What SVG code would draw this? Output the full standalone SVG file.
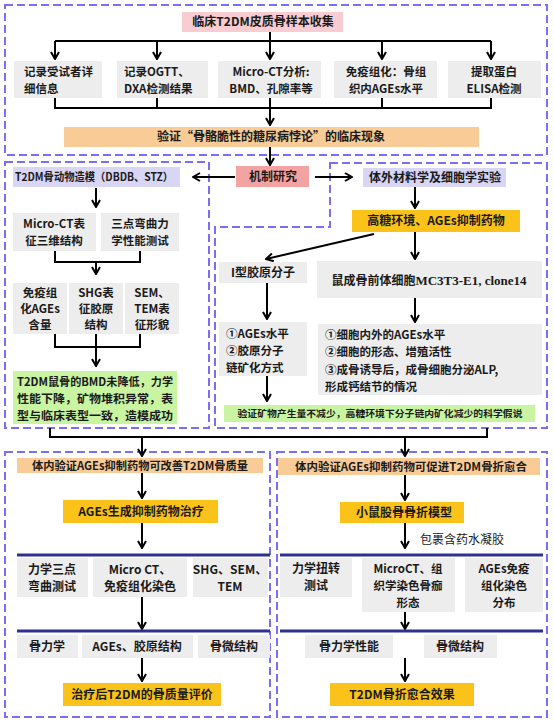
<svg xmlns="http://www.w3.org/2000/svg" width="554" height="725" viewBox="0 0 554 725">
<style>
.dash{fill:none;stroke:#7b6ef0;stroke-width:2;stroke-dasharray:8 4}
.ln{fill:none;stroke:#000;stroke-width:2}
.ar{marker-end:url(#ah)}
.navy{stroke:#2e3192;stroke-width:3;fill:none}
.gray{fill:#ededed}
.pink{fill:#f9ccd2}
.org{fill:#f9cc97}
.gold{fill:#fbc31a}
.lav{fill:#d8d5f5}
.grn{fill:#c9f5a2}
.red{fill:#f4a3a3}
text{font-family:"Noto Sans CJK SC","Noto Sans",sans-serif;font-size:12px;font-weight:bold;fill:#1a1a1a}
.c{text-anchor:middle}
.m{font-size:11.5px}
.s{font-size:11px}
.xs{font-size:9.5px}
.n{font-weight:normal}
.serif{font-family:"Liberation Serif",serif;font-size:13px}
</style>
<defs>
<marker id="ah" viewBox="0 0 10 10" refX="9" refY="5" markerWidth="10" markerHeight="10" markerUnits="userSpaceOnUse" orient="auto">
<path d="M2,1 L9,5 L2,9" fill="none" stroke="#000" stroke-width="2"/>
</marker>
</defs>

<g id="regions">
<rect class="dash" x="5" y="5" width="542" height="150"/>
<rect class="dash" x="5" y="162" width="204" height="266"/>
<path class="dash" d="M330,163 H547 V428 H215 V227 H330 Z"/>
<rect class="dash" x="5" y="452" width="265" height="265"/>
<rect class="dash" x="277" y="452" width="270" height="265"/>
</g>

<g id="connectors">
<path class="ln ar" d="M270,32 V59"/>
<path class="ln" d="M55,41 H491"/>
<path class="ln ar" d="M55,41 V59"/>
<path class="ln ar" d="M157,41 V59"/>
<path class="ln ar" d="M382,41 V59"/>
<path class="ln ar" d="M491,41 V59"/>
<path class="ln" d="M55,98 V108 H491 V98 M157,98 V108 M382,98 V108"/>
<path class="ln ar" d="M270,98 V125"/>
<path class="ln ar" d="M270,147 V165"/>
<path class="ln ar" d="M235,177 H193"/>
<path class="ln ar" d="M315,177 H352"/>
<path class="ln ar" d="M96,188 V207"/>
<path class="ln" d="M55,251 V262 H140 V251"/>
<path class="ln ar" d="M96,262 V274"/>
<path class="ln" d="M55,334 V347 H140 V334"/>
<path class="ln ar" d="M96,334 V366"/>
<path class="ln ar" d="M415,187 V208"/>
<path class="ln ar" d="M374,234 L266,259"/>
<path class="ln ar" d="M415,232 V259"/>
<path class="ln ar" d="M415,298 V322"/>
<path class="ln ar" d="M267,283 V319"/>
<path class="ln ar" d="M267,376 V401"/>
<path class="ln" d="M50,428 V437 H487 V428"/>
<path class="ln ar" d="M142,437 V456"/>
<path class="ln ar" d="M405,437 V456"/>
<path class="ln ar" d="M142,473 V498"/>
<path class="ln ar" d="M142,523 V548"/>
<path class="navy" d="M17,555 H270"/>
<path class="ln ar" d="M142,597 V629"/>
<path class="navy" d="M17,631 H270"/>
<path class="ln ar" d="M142,658 V681"/>
<path class="ln ar" d="M405,475 V500"/>
<path class="ln ar" d="M405,523 V548"/>
<path class="navy" d="M280,555 H543"/>
<path class="ln ar" d="M405,612 V629"/>
<path class="navy" d="M280,631 H543"/>
<path class="ln ar" d="M405,658 V681"/>
</g>

<g id="n_title"><rect class="pink" x="182" y="12" width="161" height="20"/><text class="c" x="263" y="26">临床T2DM皮质骨样本收集</text></g>
<g id="n_r1"><rect class="gray" x="14" y="61" width="88" height="37"/><text class="m" x="24" y="76">记录受试者详</text><text class="m" x="24" y="93">细信息</text></g>
<g id="n_r2"><rect class="gray" x="117" y="61" width="91" height="37"/><text class="m" x="124" y="76">记录OGTT、</text><text class="m" x="124" y="93">DXA检测结果</text></g>
<g id="n_r3"><rect class="gray" x="218" y="61" width="103" height="37"/><text class="c m" x="271" y="76">Micro-CT分析:</text><text class="c m" x="271" y="93">BMD、孔隙率等</text></g>
<g id="n_r4"><rect class="gray" x="334" y="61" width="103" height="37"/><text class="c m" x="386" y="76">免疫组化：骨组</text><text class="c m" x="386" y="93">织内AGEs水平</text></g>
<g id="n_r5"><rect class="gray" x="448" y="61" width="93" height="37"/><text class="c m" x="494" y="76">提取蛋白</text><text class="c m" x="494" y="93">ELISA检测</text></g>
<g id="n_verify"><rect class="org" x="64" y="127" width="415" height="20"/><text class="c" x="271" y="141">验证“骨骼脆性的糖尿病悖论”的临床现象</text></g>
<g id="n_mech"><rect class="red" x="236" y="166" width="73" height="21"/><text class="c" x="273" y="181">机制研究</text></g>

<g id="n_model"><rect class="lav" x="13" y="167" width="167" height="20"/><text class="c s" x="94" y="181" textLength="158" lengthAdjust="spacingAndGlyphs">T2DM骨动物造模（DBDB、STZ）</text></g>
<g id="n_mct"><rect class="gray" x="13" y="213" width="83" height="38"/><text class="c m" x="54" y="228">Micro-CT表</text><text class="c m" x="54" y="245">征三维结构</text></g>
<g id="n_3pt"><rect class="gray" x="101" y="213" width="78" height="38"/><text class="c m" x="140" y="228">三点弯曲力</text><text class="c m" x="140" y="245">学性能测试</text></g>
<g id="n_ihc"><rect class="gray" x="13" y="283" width="54" height="51"/><text class="c m" x="40" y="297">免疫组</text><text class="c m" x="40" y="313">化AGEs</text><text class="c m" x="40" y="329">含量</text></g>
<g id="n_shg"><rect class="gray" x="69" y="283" width="54" height="51"/><text class="c m" x="96" y="297">SHG表</text><text class="c m" x="96" y="313">征胶原</text><text class="c m" x="96" y="329">结构</text></g>
<g id="n_sem"><rect class="gray" x="125" y="283" width="54" height="51"/><text class="c m" x="152" y="297">SEM、</text><text class="c m" x="152" y="313">TEM表</text><text class="c m" x="152" y="329">征形貌</text></g>
<g id="n_result"><rect class="grn" x="13" y="371" width="164" height="53"/><text class="c m" x="95" y="386" textLength="156" lengthAdjust="spacingAndGlyphs">T2DM鼠骨的BMD未降低，力学</text><text class="c m" x="95" y="403" textLength="156" lengthAdjust="spacingAndGlyphs">性能下降，矿物堆积异常，表</text><text class="c m" x="95" y="420" textLength="156" lengthAdjust="spacingAndGlyphs">型与临床表型一致，造模成功</text></g>

<g id="n_invitro"><rect class="lav" x="363" y="168" width="143" height="19"/><text class="c" x="435" y="182">体外材料学及细胞学实验</text></g>
<g id="n_hg"><rect class="gold" x="352" y="210" width="168" height="22"/><text class="c" x="436" y="225">高糖环境、AGEs抑制药物</text></g>
<g id="n_col"><rect class="gray" x="219" y="262" width="88" height="21"/><text class="c" x="263" y="277">I型胶原分子</text></g>
<g id="n_cell"><rect class="gray" x="317" y="261" width="225" height="37"/><text class="c" x="429" y="285">鼠成骨前体细胞<tspan class="serif">MC3T3-E1, clone14</tspan></text></g>
<g id="n_colres"><rect class="gray" x="219" y="322" width="88" height="54"/><text class="m" x="226" y="338">①AGEs水平</text><text class="m" x="226" y="355">②胶原分子</text><text class="m" x="226" y="372">链矿化方式</text></g>
<g id="n_cellres"><rect class="gray" x="318" y="324" width="224" height="71"/><text class="m" x="325" y="339">①细胞内外的AGEs水平</text><text class="m" x="325" y="356">②细胞的形态、增殖活性</text><text class="m" x="325" y="374">③成骨诱导后，成骨细胞分泌ALP,</text><text class="m" x="325" y="391">形成钙结节的情况</text></g>
<g id="n_hypo"><rect class="grn" x="224" y="405" width="311" height="17"/><text class="c xs" x="380" y="417" textLength="285" lengthAdjust="spacingAndGlyphs">验证矿物产生量不减少，高糖环境下分子链内矿化减少的科学假说</text></g>

<g id="n_lh"><rect class="org" x="17" y="458" width="246" height="15"/><text class="c s" x="140" y="470" textLength="216" lengthAdjust="spacingAndGlyphs">体内验证AGEs抑制药物可改善T2DM骨质量</text></g>
<g id="n_ltreat"><rect class="gold" x="63" y="500" width="155" height="23"/><text class="c" x="141" y="516">AGEs生成抑制药物治疗</text></g>
<g id="n_la"><rect class="gray" x="17" y="558" width="71" height="39"/><text class="c" x="52" y="574">力学三点</text><text class="c" x="52" y="591">弯曲测试</text></g>
<g id="n_lb"><rect class="gray" x="93" y="558" width="94" height="39"/><text class="c" x="140" y="574">Micro CT、</text><text class="c" x="140" y="591">免疫组化染色</text></g>
<g id="n_lc"><rect class="gray" x="193" y="558" width="75" height="39"/><text class="c" x="230" y="574">SHG、SEM、</text><text class="c" x="230" y="591">TEM</text></g>
<g id="n_ld"><rect class="gray" x="17" y="635" width="61" height="23"/><text class="c" x="47" y="651">骨力学</text></g>
<g id="n_le"><rect class="gray" x="82" y="635" width="111" height="23"/><text class="c" x="137" y="651">AGEs、胶原结构</text></g>
<g id="n_lf"><rect class="gray" x="198" y="635" width="72" height="23"/><text class="c" x="234" y="651">骨微结构</text></g>
<g id="n_lend"><rect class="gold" x="63" y="683" width="158" height="23"/><text class="c" x="142" y="699">治疗后T2DM的骨质量评价</text></g>

<g id="n_rh"><rect class="org" x="278" y="458" width="262" height="17"/><text class="c s" x="411" y="471" textLength="232" lengthAdjust="spacingAndGlyphs">体内验证AGEs抑制药物可促进T2DM骨折愈合</text></g>
<g id="n_rfx"><rect class="gold" x="340" y="502" width="124" height="21"/><text class="c" x="404" y="517">小鼠股骨骨折模型</text></g>
<g id="n_rgel"><text class="n" x="420" y="544">包裹含药水凝胶</text></g>
<g id="n_ra"><rect class="gray" x="280" y="558" width="72" height="39"/><text class="c" x="316" y="573">力学扭转</text><text class="c" x="316" y="590">测试</text></g>
<g id="n_rb"><rect class="gray" x="362" y="558" width="93" height="54"/><text class="c m" x="408" y="573">MicroCT、组</text><text class="c m" x="408" y="590">织学染色骨痂</text><text class="c m" x="408" y="607">形态</text></g>
<g id="n_rc"><rect class="gray" x="465" y="558" width="78" height="54"/><text class="c m" x="504" y="573">AGEs免疫</text><text class="c m" x="504" y="590">组化染色</text><text class="c m" x="504" y="607">分布</text></g>
<g id="n_rd"><rect class="gray" x="305" y="635" width="88" height="23"/><text class="c" x="349" y="651">骨力学性能</text></g>
<g id="n_re"><rect class="gray" x="424" y="635" width="73" height="23"/><text class="c" x="460" y="651">骨微结构</text></g>
<g id="n_rend"><rect class="gold" x="330" y="683" width="144" height="23"/><text class="c" x="402" y="699">T2DM骨折愈合效果</text></g>
</svg>
